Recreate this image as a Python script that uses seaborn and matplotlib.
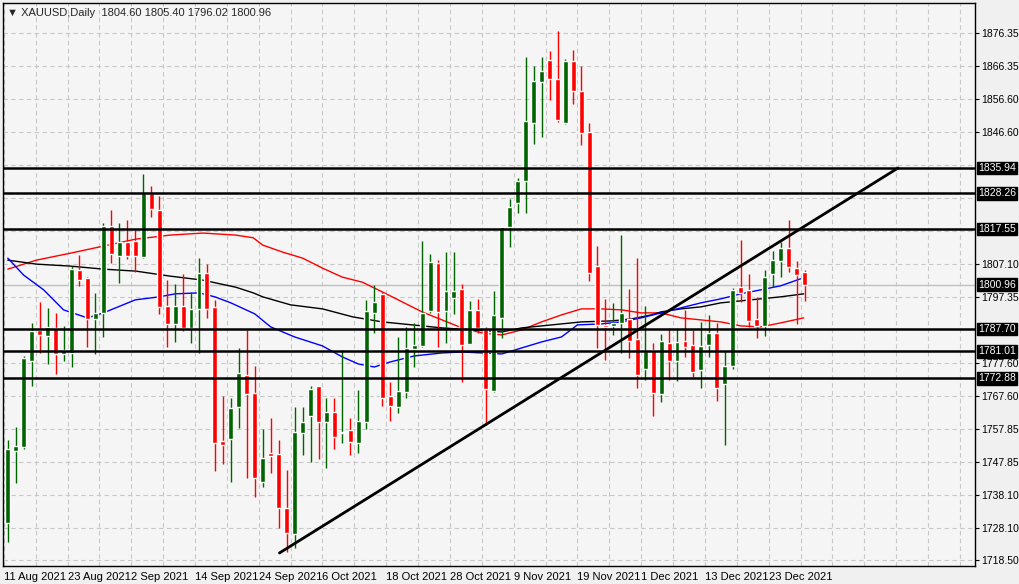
import numpy as np
import pandas as pd
import matplotlib
matplotlib.use("Agg")
import matplotlib.pyplot as plt
import seaborn as sns

# daily XAUUSD candles, 11 Aug 2021 - 29 Dec 2021
dates = pd.bdate_range("2021-08-11", periods=101)
opens = [1729.6, 1751.1, 1752.3, 1778.1, 1787.4, 1785.6, 1788.0, 1780.2, 1780.5, 1805.3,
         1803.0, 1790.7, 1792.5, 1818.5, 1809.5, 1813.7, 1814.0, 1809.2, 1828.4, 1823.3,
         1794.6, 1789.2, 1794.6, 1788.0, 1793.7, 1804.4, 1794.3, 1754.1, 1754.7, 1764.3,
         1773.9, 1768.5, 1741.8, 1750.5, 1750.2, 1734.0, 1726.2, 1756.5, 1761.6, 1770.6,
         1759.8, 1762.8, 1756.5, 1757.4, 1753.5, 1759.8, 1792.5, 1798.2, 1767.6, 1764.3,
         1768.8, 1781.7, 1782.6, 1793.1, 1807.4, 1793.1, 1796.9, 1799.7, 1783.2, 1793.4,
         1787.7, 1769.1, 1790.9, 1818.1, 1825.3, 1832.0, 1849.5, 1861.5, 1868.3, 1862.6,
         1849.3, 1867.8, 1858.8, 1846.8, 1806.5, 1788.9, 1788.7, 1789.6, 1790.6, 1784.6,
         1775.6, 1781.4, 1768.1, 1783.4, 1778.2, 1784.0, 1782.9, 1775.4, 1782.9, 1786.4,
         1771.1, 1776.7, 1800.2, 1799.4, 1790.7, 1788.7, 1804.2, 1808.1, 1811.8, 1805.8,
         1804.60]
highs = [1754.4, 1758.3, 1779.6, 1789.5, 1795.8, 1794.0, 1792.5, 1788.6, 1806.5, 1809.8,
         1803.3, 1798.5, 1819.4, 1823.3, 1819.4, 1820.3, 1817.3, 1834.1, 1830.5, 1827.5,
         1802.3, 1801.1, 1804.1, 1798.8, 1808.9, 1807.1, 1796.4, 1767.6, 1767.0, 1782.0,
         1787.4, 1776.6, 1757.7, 1761.0, 1754.4, 1745.4, 1764.3, 1764.3, 1770.6, 1770.6,
         1767.0, 1767.0, 1781.4, 1761.0, 1769.4, 1796.4, 1800.8, 1798.8, 1771.8, 1785.3,
         1788.3, 1789.5, 1814.0, 1810.1, 1808.3, 1810.7, 1810.7, 1801.1, 1796.1, 1796.7,
         1788.3, 1799.1, 1818.1, 1826.6, 1833.0, 1869.0, 1866.3, 1869.0, 1870.8, 1876.8,
         1868.5, 1871.3, 1866.3, 1849.3, 1812.5, 1796.6, 1795.4, 1815.8, 1799.6, 1808.9,
         1794.6, 1783.4, 1786.2, 1787.9, 1787.6, 1793.4, 1787.4, 1789.9, 1791.9, 1789.6,
         1781.1, 1800.0, 1814.3, 1804.1, 1797.4, 1805.3, 1810.9, 1813.8, 1820.3, 1807.9,
         1805.40]
lows = [1723.9, 1741.5, 1751.7, 1770.6, 1780.5, 1777.2, 1774.2, 1778.1, 1776.3, 1800.5,
        1782.3, 1780.2, 1785.3, 1807.4, 1801.4, 1808.6, 1804.7, 1808.9, 1821.2, 1792.2,
        1782.3, 1783.8, 1787.1, 1783.5, 1780.5, 1791.0, 1745.1, 1747.2, 1741.8, 1758.0,
        1743.0, 1737.3, 1740.3, 1744.5, 1728.0, 1720.9, 1722.1, 1749.9, 1747.8, 1748.7,
        1746.0, 1751.7, 1753.5, 1749.9, 1750.5, 1757.7, 1786.5, 1764.6, 1760.1, 1762.5,
        1767.0, 1776.3, 1782.3, 1792.5, 1782.3, 1783.5, 1792.2, 1771.8, 1783.2, 1786.5,
        1758.9, 1768.8, 1784.9, 1812.3, 1822.5, 1822.5, 1843.1, 1845.3, 1856.3, 1849.8,
        1849.1, 1855.0, 1842.8, 1802.0, 1781.9, 1778.4, 1785.9, 1780.4, 1779.1, 1769.9,
        1772.4, 1761.7, 1765.9, 1772.4, 1772.2, 1779.4, 1773.2, 1770.1, 1779.4, 1766.2,
        1753.0, 1775.6, 1795.9, 1788.4, 1784.9, 1785.7, 1800.4, 1803.3, 1804.8, 1789.2,
        1796.02]
closes = [1751.7, 1752.6, 1779.0, 1787.1, 1785.9, 1788.3, 1780.2, 1781.4, 1805.6, 1802.3,
          1790.7, 1792.5, 1818.5, 1810.1, 1813.7, 1809.5, 1809.5, 1828.4, 1823.6, 1794.3,
          1789.2, 1794.6, 1788.0, 1793.7, 1804.4, 1793.7, 1753.5, 1752.9, 1764.0, 1774.5,
          1768.2, 1743.0, 1749.0, 1749.6, 1734.0, 1726.5, 1756.8, 1759.8, 1769.7, 1759.8,
          1762.8, 1755.3, 1756.8, 1753.8, 1760.1, 1793.1, 1795.8, 1767.0, 1764.6, 1769.1,
          1782.0, 1782.9, 1792.5, 1807.7, 1792.8, 1799.1, 1799.1, 1782.9, 1793.4, 1788.0,
          1769.7, 1791.9, 1818.1, 1824.3, 1832.0, 1850.1, 1862.0, 1864.8, 1862.6, 1850.4,
          1867.8, 1858.8, 1846.5, 1804.5, 1788.9, 1788.4, 1789.4, 1792.4, 1784.2, 1773.9,
          1781.1, 1768.4, 1784.0, 1778.2, 1783.8, 1782.3, 1774.9, 1782.7, 1786.4, 1770.1,
          1776.6, 1799.4, 1798.6, 1790.2, 1788.7, 1803.2, 1808.2, 1811.8, 1806.1, 1803.8,
          1800.96]

# moving averages, sampled at bar positions
ma_fast_x = [0, 2, 4.5, 7, 10, 12, 16, 19, 21, 24, 26, 28, 31, 33, 36, 39.5, 42, 44, 46, 48,
             51, 54.5, 57, 59.5, 62, 64.5, 67, 69.5, 71.5, 74.5, 77, 79.5, 82, 84.5, 87, 89.5,
             92, 94.5, 97, 99.5]
ma_fast = [1808.9, 1803.8, 1799.4, 1793.4, 1791.0, 1792.5, 1796.4, 1797.3, 1798.2, 1798.5,
           1797.3, 1795.5, 1792.2, 1788.3, 1785.3, 1782.6, 1779.3, 1777.2, 1776.3, 1777.8,
           1779.6, 1780.5, 1780.8, 1780.5, 1780.2, 1782.0, 1783.8, 1785.3, 1788.9, 1789.2,
           1789.8, 1791.0, 1792.5, 1794.0, 1795.5, 1796.7, 1798.2, 1799.4, 1800.6, 1802.7]
ma_mid_x = [0, 3.6, 7.9, 12, 16.1, 20.4, 24.5, 28.6, 30.8, 32, 35.5, 39.5, 43.3, 47, 50.8,
            54.5, 58.3, 62, 64.5, 67, 69.5, 72, 75.8, 78.3, 80.8, 82, 84.5, 87, 89.5, 92, 94.5,
            97, 99.9]
ma_mid = [1808.3, 1807.1, 1806.5, 1805.6, 1805.0, 1803.5, 1802.3, 1800.2, 1798.5, 1797.3,
          1794.9, 1793.7, 1791.3, 1789.8, 1788.9, 1788.0, 1787.4, 1786.8, 1788.0, 1788.6,
          1789.2, 1789.8, 1790.1, 1790.7, 1791.9, 1792.8, 1793.7, 1794.3, 1795.5, 1796.1,
          1796.7, 1797.3, 1798.2]
ma_slow_x = [0, 3.6, 7.9, 12, 16.1, 20.4, 24.5, 28.6, 30.8, 32, 34.5, 37, 39.5, 42, 44.5, 47,
             49.5, 52, 54.5, 57, 59.5, 62, 64.5, 67, 69.5, 72, 74.5, 77, 79.5, 82, 84.5, 87,
             89.5, 92, 94.5, 97, 99.9]
ma_slow = [1805.6, 1808.3, 1810.4, 1812.5, 1814.6, 1815.8, 1816.4, 1815.8, 1815.0, 1812.8,
           1810.7, 1808.9, 1805.9, 1803.2, 1801.7, 1798.8, 1795.8, 1792.8, 1790.4, 1788.0,
           1786.5, 1785.9, 1787.4, 1789.8, 1791.9, 1793.7, 1793.7, 1793.4, 1792.5, 1792.5,
           1791.0, 1790.4, 1789.8, 1788.6, 1788.3, 1789.5, 1791.0]

levels = [1835.94, 1828.26, 1817.55, 1787.70, 1781.01, 1772.88]
trend_x = [34.1, 111.75]
trend_y = [1720.6, 1835.9]
tick_vals = [1876.35, 1866.35, 1856.60, 1846.60, 1807.10, 1797.35, 1777.60, 1767.60,
             1757.85, 1747.85, 1738.10, 1728.10, 1718.50]
last_price = 1800.96

sns.set_style("white")
plt.rcParams["font.family"] = ["Liberation Sans", "DejaVu Sans"]

fig = plt.figure(figsize=(10.2, 5.84), dpi=100)
ax = fig.add_axes([3 / 1020, 18 / 584, 972 / 1020, 563 / 584])
ax.set_facecolor("#f5f5f5")
fig.patch.set_facecolor("#f0f0f0")

x = np.arange(len(dates))
o, h, l, c = map(np.array, (opens, highs, lows, closes))
up = c >= o
col = np.where(up, "#006400", "#ff0000")

# grid
for gx in np.arange(0, 122, 4) - 0.5:
    ax.axvline(gx, color="#c8c8c8", lw=0.8, ls=(0, (4, 3)), zorder=0)
for gy in tick_vals + [1836.85, 1826.85, 1817.10, 1787.60]:
    ax.axhline(gy, color="#c8c8c8", lw=0.8, ls=(0, (4, 3)), zorder=0)
ax.axhline(last_price, color="#c0c0c0", lw=1, zorder=1)

# moving averages
sns.lineplot(x=ma_slow_x, y=ma_slow, ax=ax, color="red", lw=1, zorder=2)
sns.lineplot(x=ma_mid_x, y=ma_mid, ax=ax, color="black", lw=1, zorder=2)
sns.lineplot(x=ma_fast_x, y=ma_fast, ax=ax, color="blue", lw=1, zorder=2)

# candles
ax.vlines(x, l, h, colors=col, lw=1, zorder=3)
ax.bar(x, np.abs(c - o), bottom=np.minimum(o, c), width=0.62, color=col, zorder=4)

# support / resistance and trend line
for lv in levels:
    ax.axhline(lv, color="black", lw=1.8, zorder=5)
ax.plot(trend_x, trend_y, color="black", lw=2, zorder=5)

ax.set_xlim(-0.6, 121.4)
ax.set_ylim(1716.7, 1885.3)

tick_pos = np.arange(0, 101, 8)
ax.set_xticks(tick_pos - 0.5)
ax.set_xticklabels([f"{d.day} {d.strftime('%b %Y')}" for d in dates[tick_pos]],
                   ha="left", fontsize=8)
ax.yaxis.tick_right()
ax.set_yticks(tick_vals)
ax.set_yticklabels([f"{v:.2f}" for v in tick_vals], fontsize=7.5)
ax.tick_params(axis="both", length=3, width=0.8, colors="black", pad=2, direction="out")
ax.tick_params(axis="y", pad=1.5)
ax.tick_params(axis="x", pad=1)
for s in ax.spines.values():
    s.set_color("black")
    s.set_linewidth(1)

for lv in levels + [last_price]:
    ax.text(1.003, lv, f"{lv:.2f}", transform=ax.get_yaxis_transform(), fontsize=7.5,
            color="white", va="center", ha="left", zorder=10, clip_on=False,
            bbox=dict(boxstyle="square,pad=0.12", fc="black", ec="black"))

ax.text(0.004, 0.992, "\u25bc XAUUSD,Daily  1804.60 1805.40 1796.02 1800.96",
        transform=ax.transAxes, fontsize=8, va="top", ha="left")

fig.savefig("out.png", dpi=100, facecolor=fig.get_facecolor())
